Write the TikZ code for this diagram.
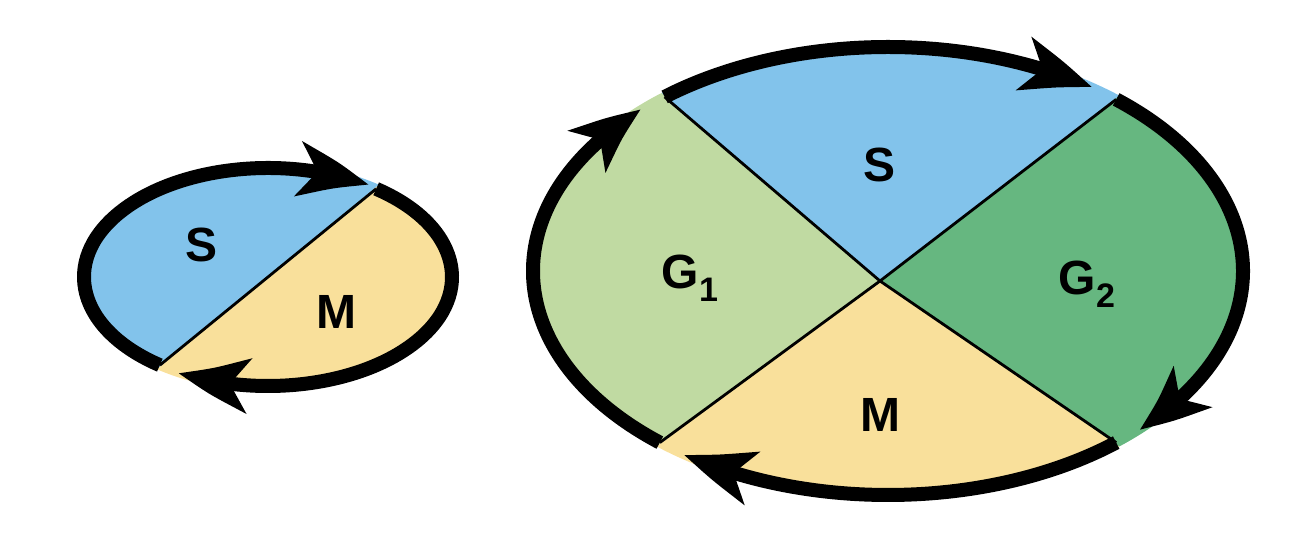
\documentclass[tikz,border=0pt]{standalone}
\usepackage{fontspec}
\setmainfont{Liberation Sans}
\usetikzlibrary{arrows.meta, bending}
\definecolor{phaseS}{RGB}{130, 195, 235}
\definecolor{phaseM}{RGB}{249, 224, 155}
\definecolor{phaseGa}{RGB}{192, 218, 162}
\definecolor{phaseGb}{RGB}{102, 183, 128}
\newcommand{\idx}[1]{\raisebox{-6.5pt}{\fontsize{17}{17}\selectfont #1}}

\begin{document}
\begin{tikzpicture}[x=0.5pt, y=0.5pt,
    ring/.style={line width=7pt, -{Stealth[length=35pt, width=27pt, inset=9pt, bend]}},
    split/.style={line width=1.4pt},
    lbl/.style={font=\fontsize{24}{24}\selectfont\bfseries, inner sep=0pt}]
  \useasboundingbox (0,0) rectangle (1314,540);

  %% ── small cycle (S + M) ──────────────────────────────────────────
  \begin{scope}[shift={(268,263)}]
    \fill[phaseS] (0,0) -- (54:189 and 114)
      arc[start angle=54, end angle=234, x radius=189, y radius=114] -- cycle;
    \fill[phaseM] (0,0) -- (234:189 and 114)
      arc[start angle=234, end angle=414, x radius=189, y radius=114] -- cycle;
    % divider
    \draw[split] (54:184 and 109) -- (234:184 and 109);
    % arrowed halves
    \draw[ring] (234:184 and 109)
      arc[start angle=234, end angle=57, x radius=184, y radius=109];
    \draw[ring] (54:184 and 109)
      arc[start angle=54, end angle=-119, x radius=184, y radius=109];
  \end{scope}
  \node[lbl] (sS) at (202,295) {S};
  \node[lbl] (sM) at (336,228) {M};

  %% ── large cycle (G1, S, G2, M) ───────────────────────────────────
  \begin{scope}[shift={(888,269)}]
    \coordinate (hub) at (-8,-10);
    \fill[phaseS] (hub) -- (50:360 and 229)
      arc[start angle=50, end angle=129, x radius=360, y radius=229] -- cycle;
    \fill[phaseGa] (hub) -- (129:360 and 229)
      arc[start angle=129, end angle=230, x radius=360, y radius=229] -- cycle;
    \fill[phaseM] (hub) -- (230:360 and 229)
      arc[start angle=230, end angle=310, x radius=360, y radius=229] -- cycle;
    \fill[phaseGb] (hub) -- (310:360 and 229)
      arc[start angle=310, end angle=410, x radius=360, y radius=229] -- cycle;
    % dividers through the hub
    \draw[split] (129:355 and 224) -- (hub) -- (310:355 and 224);
    \draw[split] (50:355 and 224) -- (hub) -- (230:355 and 224);
    % four arrowed quarters
    \draw[ring] (230:355 and 224)
      arc[start angle=230, end angle=134, x radius=355, y radius=224];
    \draw[ring] (129:355 and 224)
      arc[start angle=129, end angle=55, x radius=355, y radius=224];
    \draw[ring] (50:355 and 224)
      arc[start angle=50, end angle=-45, x radius=355, y radius=224];
    \draw[ring] (-50:355 and 224)
      arc[start angle=-50, end angle=-125, x radius=355, y radius=224];
  \end{scope}
  \node[lbl] (bS) at (880,375) {S};
  \node[lbl] (bM) at (880,125) {M};
  \node[lbl, anchor=base] (bG1) at (690,251) {G\idx{1}};
  \node[lbl, anchor=base] (bG2) at (1087,245) {G\idx{2}};

\end{tikzpicture}
\end{document}
